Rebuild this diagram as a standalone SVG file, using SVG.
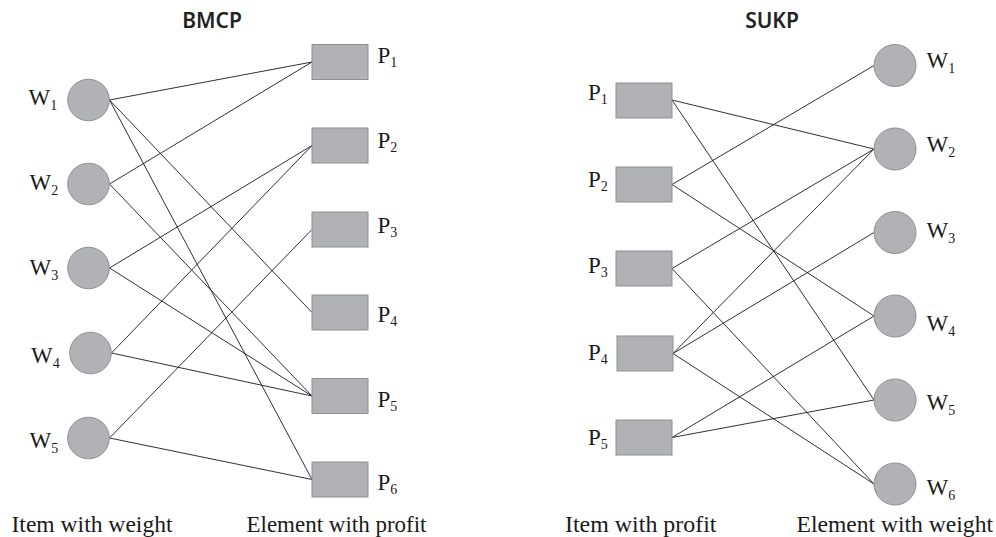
<svg xmlns="http://www.w3.org/2000/svg" width="996" height="537" viewBox="0 0 996 537">
<style>
.bg{fill:#ffffff}
.node{fill:#b1b2b5;stroke:#8f9093;stroke-width:1}
.edge{stroke:#1a1a1a;stroke-width:0.9;fill:none}
.lbl{font-family:"Liberation Serif","Times New Roman",serif;font-size:23px;fill:#1a1a1a}
.sub{font-size:14px}
.title{font-family:"Noto Sans","Open Sans","Liberation Sans",sans-serif;font-size:21px;font-weight:600;fill:#222222;text-anchor:middle}
.cap{font-family:"Liberation Serif","Times New Roman",serif;font-size:23px;fill:#1a1a1a}
</style>
<rect class="bg" x="0" y="0" width="996" height="537"/>
<text class="title" x="212" y="28">BMCP</text>
<text class="title" x="772" y="28">SUKP</text>
<g id="connectors">
  <!-- BMCP -->
  <line class="edge" x1="109.5" y1="100" x2="312" y2="62"/>
  <line class="edge" x1="109.5" y1="100" x2="312" y2="312.5"/>
  <line class="edge" x1="109.5" y1="100" x2="312" y2="479.5"/>
  <line class="edge" x1="109.5" y1="184" x2="312" y2="62"/>
  <line class="edge" x1="109.5" y1="184" x2="312" y2="396"/>
  <line class="edge" x1="109.5" y1="268" x2="312" y2="145.5"/>
  <line class="edge" x1="109.5" y1="268" x2="312" y2="396"/>
  <line class="edge" x1="111.5" y1="353" x2="312" y2="145.5"/>
  <line class="edge" x1="111.5" y1="353" x2="312" y2="396"/>
  <line class="edge" x1="109.5" y1="438" x2="312" y2="229.5"/>
  <line class="edge" x1="109.5" y1="438" x2="312" y2="479.5"/>
  <!-- SUKP -->
  <line class="edge" x1="672" y1="100" x2="874" y2="149"/>
  <line class="edge" x1="672" y1="100" x2="874" y2="400"/>
  <line class="edge" x1="672" y1="184.5" x2="874" y2="65.5"/>
  <line class="edge" x1="672" y1="184.5" x2="874" y2="316"/>
  <line class="edge" x1="672" y1="268.5" x2="874" y2="149"/>
  <line class="edge" x1="672" y1="268.5" x2="874" y2="484"/>
  <line class="edge" x1="673" y1="353.5" x2="874" y2="149"/>
  <line class="edge" x1="673" y1="353.5" x2="874" y2="232.5"/>
  <line class="edge" x1="673" y1="353.5" x2="874" y2="484"/>
  <line class="edge" x1="672" y1="437.5" x2="874" y2="316"/>
  <line class="edge" x1="672" y1="437.5" x2="874" y2="400"/>
</g>
<!-- BMCP left: items with weight -->
<g id="bW1"><circle class="node" cx="88.5" cy="100" r="20.8"/><text class="lbl" x="28.5" y="105">W<tspan class="sub" dy="5">1</tspan></text></g>
<g id="bW2"><circle class="node" cx="88.5" cy="184" r="20.8"/><text class="lbl" x="29.5" y="190">W<tspan class="sub" dy="5">2</tspan></text></g>
<g id="bW3"><circle class="node" cx="88.5" cy="268" r="20.8"/><text class="lbl" x="29.5" y="275">W<tspan class="sub" dy="5">3</tspan></text></g>
<g id="bW4"><circle class="node" cx="90.5" cy="353" r="20.8"/><text class="lbl" x="31" y="363">W<tspan class="sub" dy="5">4</tspan></text></g>
<g id="bW5"><circle class="node" cx="88.5" cy="438" r="20.8"/><text class="lbl" x="29.5" y="448">W<tspan class="sub" dy="5">5</tspan></text></g>
<!-- BMCP right: elements with profit -->
<g id="bP1"><rect class="node" x="312" y="44.5" width="56" height="35"/><text class="lbl" x="377.5" y="63">P<tspan class="sub" dy="4">1</tspan></text></g>
<g id="bP2"><rect class="node" x="312" y="128" width="56" height="35"/><text class="lbl" x="377.5" y="148">P<tspan class="sub" dy="4">2</tspan></text></g>
<g id="bP3"><rect class="node" x="312" y="212" width="56" height="35"/><text class="lbl" x="377.5" y="233">P<tspan class="sub" dy="4">3</tspan></text></g>
<g id="bP4"><rect class="node" x="312" y="295" width="56" height="35"/><text class="lbl" x="377.5" y="322">P<tspan class="sub" dy="4">4</tspan></text></g>
<g id="bP5"><rect class="node" x="312" y="378.5" width="56" height="35"/><text class="lbl" x="377.5" y="407">P<tspan class="sub" dy="4">5</tspan></text></g>
<g id="bP6"><rect class="node" x="312" y="462" width="56" height="35"/><text class="lbl" x="377.5" y="490">P<tspan class="sub" dy="4">6</tspan></text></g>
<!-- SUKP left: items with profit -->
<g id="sP1"><rect class="node" x="616" y="83" width="56" height="35"/><text class="lbl" x="588" y="100">P<tspan class="sub" dy="4">1</tspan></text></g>
<g id="sP2"><rect class="node" x="616" y="167" width="56" height="35"/><text class="lbl" x="588" y="187">P<tspan class="sub" dy="4">2</tspan></text></g>
<g id="sP3"><rect class="node" x="616" y="251" width="56" height="35"/><text class="lbl" x="588" y="273">P<tspan class="sub" dy="4">3</tspan></text></g>
<g id="sP4"><rect class="node" x="617" y="336" width="56" height="35"/><text class="lbl" x="588" y="360">P<tspan class="sub" dy="4">4</tspan></text></g>
<g id="sP5"><rect class="node" x="616" y="420" width="56" height="35"/><text class="lbl" x="588" y="445">P<tspan class="sub" dy="4">5</tspan></text></g>
<!-- SUKP right: elements with weight -->
<g id="sW1"><circle class="node" cx="895" cy="65.5" r="21"/><text class="lbl" x="926.5" y="68">W<tspan class="sub" dy="5">1</tspan></text></g>
<g id="sW2"><circle class="node" cx="895" cy="149" r="21"/><text class="lbl" x="926.5" y="152">W<tspan class="sub" dy="5">2</tspan></text></g>
<g id="sW3"><circle class="node" cx="895" cy="232.5" r="21"/><text class="lbl" x="926.5" y="238">W<tspan class="sub" dy="5">3</tspan></text></g>
<g id="sW4"><circle class="node" cx="895" cy="316" r="21"/><text class="lbl" x="926.5" y="331">W<tspan class="sub" dy="5">4</tspan></text></g>
<g id="sW5"><circle class="node" cx="895" cy="400" r="21"/><text class="lbl" x="926.5" y="410">W<tspan class="sub" dy="5">5</tspan></text></g>
<g id="sW6"><circle class="node" cx="895" cy="484" r="21"/><text class="lbl" x="926.5" y="495">W<tspan class="sub" dy="5">6</tspan></text></g>
<!-- captions -->
<text class="cap" x="11.5" y="531.5" textLength="161" lengthAdjust="spacingAndGlyphs">Item with weight</text>
<text class="cap" x="246.5" y="531.5" textLength="180" lengthAdjust="spacingAndGlyphs">Element with profit</text>
<text class="cap" x="565" y="531.5" textLength="151.5" lengthAdjust="spacingAndGlyphs">Item with profit</text>
<text class="cap" x="796.5" y="531.5" textLength="196.5" lengthAdjust="spacingAndGlyphs">Element with weight</text>
</svg>
